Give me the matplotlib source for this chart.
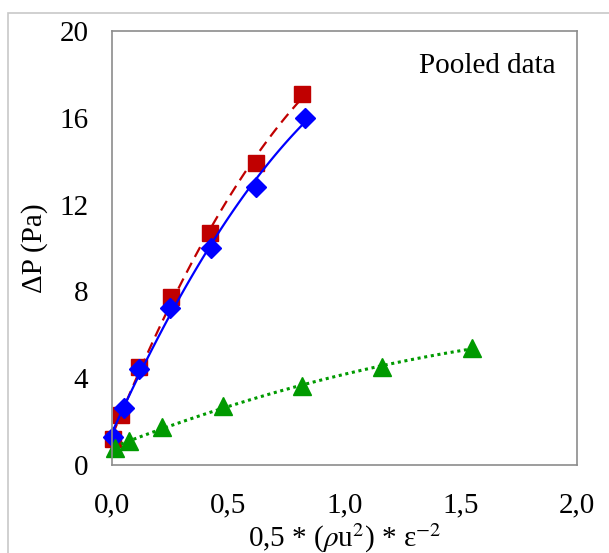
import numpy as np
import matplotlib
matplotlib.use('Agg')
from matplotlib import pyplot as plt
from matplotlib.patches import Rectangle

red_x = [0.003, 0.04, 0.115, 0.253, 0.42, 0.62, 0.818]
red_y = [1.2, 2.3, 4.5, 7.75, 10.7, 13.9, 17.1]
blue_x = [0.006, 0.05, 0.115, 0.248, 0.424, 0.62, 0.829]
blue_y = [1.3, 2.65, 4.43, 7.24, 9.98, 12.8, 16.0]
green_x = [0.011, 0.074, 0.216, 0.479, 0.818, 1.163, 1.548]
green_y = [0.78, 1.1, 1.75, 2.73, 3.62, 4.51, 5.4]
x_ticks = [0.0, 0.5, 1.0, 1.5, 2.0]
y_ticks = [0, 4, 8, 12, 16, 20]

plt.rcParams['font.family'] = ['Liberation Serif', 'DejaVu Serif']
plt.rcParams['mathtext.fontset'] = 'stix'

fig = plt.figure(figsize=(6.09, 5.53), dpi=100)
fig.patches.append(Rectangle((8 / 609, -0.1), 1.1, 1 - 13 / 553 + 0.1,
                             transform=fig.transFigure, fill=False,
                             edgecolor='#c8c8c8', linewidth=1.2))
ax = fig.add_axes([0.184, 0.159, 0.763, 0.785])


def trend(xs, ys):
    # quadratic trendline through the points, like the spreadsheet fit
    c = np.polyfit(xs, ys, 2)
    xx = np.linspace(min(xs), max(xs), 100)
    return xx, np.polyval(c, xx)


ax.plot(*trend(red_x, red_y), color='#C00000', ls=(0, (5, 3)), lw=1.6)
ax.plot(red_x, red_y, 's', color='#C00000', ms=11, ls='', clip_on=False)
ax.plot(*trend(blue_x, blue_y), color='#0000FF', ls='-', lw=1.6)
ax.plot(blue_x, blue_y, 'D', color='#0000FF', ms=10, ls='', clip_on=False)
ax.plot(*trend(green_x, green_y), color='#009A00', ls=(0, (1, 1.2)), lw=2.2)
ax.plot(green_x, green_y, '^', color='#009A00', ms=13, ls='', clip_on=False)

ax.set_xlim(0, 2)
ax.set_ylim(0, 20)
ax.set_xticks(x_ticks)
ax.set_xticklabels([f'{v:.1f}'.replace('.', ',') for v in x_ticks])
ax.set_yticks(y_ticks)
ax.tick_params(length=0, labelsize=21, pad=17)
ax.tick_params(axis='x', pad=20)
for s in ax.spines.values():
    s.set_color('#8c8c8c')
    s.set_linewidth(1.2)

ax.set_ylabel('ΔP (Pa)', fontsize=21, labelpad=8)
ax.set_xlabel(r'0,5 * ($\it{\rho}$u$^{2}$) * ε$^{-2}$', fontsize=21, labelpad=2)
ax.text(0.955, 0.92, 'Pooled data', transform=ax.transAxes, ha='right',
        va='center', fontsize=21)

fig.savefig('out.png', dpi=100)
